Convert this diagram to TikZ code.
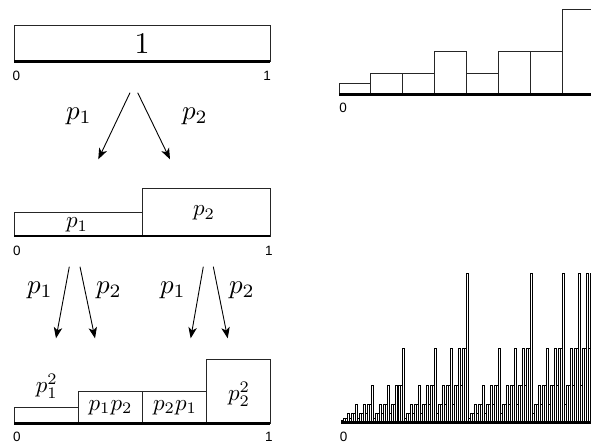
\documentclass[tikz,border=0pt]{standalone}
\usepackage{fontspec}
\newfontfamily\axisfont{Liberation Sans}
\usetikzlibrary{arrows.meta}
\begin{document}
\begin{tikzpicture}[x=1pt,y=-1pt,
  bar/.style={draw=black!85,line width=0.8pt},
  thinbar/.style={draw=black,line width=0.55pt},
  base/.style={line width=2.5pt,black},
  axlab/.style={font=\axisfont\fontsize{13.5}{13.5}\selectfont,inner sep=0pt},
  arr/.style={line width=0.9pt,-{Stealth[length=11pt,width=8.5pt,inset=3pt]}},
  plab/.style={scale=2.7,inner sep=0pt},
  blab/.style={scale=2.3,inner sep=0pt}]
\useasboundingbox (0,0) rectangle (591,445);
\clip (0,0) rectangle (591,445);

% ---------- level 0 ----------
\draw[bar] (14,25.7) rectangle (270,61.7);
\draw[base] (14,61.7) -- (270,61.7);
\node[scale=3,inner sep=0pt] (one) at (142,44) {1};
\node[axlab] (l0a) at (16.5,76) {0};
\node[axlab] (l0b) at (267,76) {1};

\coordinate (a0s) at (130,92.7);  \coordinate (a0e) at (98.3,159.3);
\coordinate (b0s) at (137.7,92.7);\coordinate (b0e) at (170,159.3);
\draw[arr] (a0s) -- (a0e);
\draw[arr] (b0s) -- (b0e);
\node[plab] (q0a) at (79,116.7) {$p_1$};
\node[plab] (q0b) at (195,116.7) {$p_2$};

% ---------- level 1 ----------
\draw[bar] (14,236) rectangle (142,212);
\draw[bar] (142,236) rectangle (270,188);
\draw[base] (14,236) -- (270,236);
\node[blab] (m1a) at (77,225) {$p_1$};
\node[blab] (m1b) at (204,213) {$p_2$};
\node[axlab] (l1a) at (17,250.7) {0};
\node[axlab] (l1b) at (269,250.7) {1};

\coordinate (c1s) at (69.3,266.7);  \coordinate (c1e) at (56,338.3);
\coordinate (d1s) at (80,266.7);    \coordinate (d1e) at (95,338.3);
\coordinate (e1s) at (203.3,266.7); \coordinate (e1e) at (190.7,338.3);
\coordinate (f1s) at (213.3,266.7); \coordinate (f1e) at (227.7,338.3);
\draw[arr] (c1s) -- (c1e);
\draw[arr] (d1s) -- (d1e);
\draw[arr] (e1s) -- (e1e);
\draw[arr] (f1s) -- (f1e);
\node[plab] (q1a) at (40,290) {$p_1$};
\node[plab] (q1b) at (109,290) {$p_2$};
\node[plab] (q1c) at (173,290) {$p_1$};
\node[plab] (q1d) at (242,290) {$p_2$};

% ---------- level 2 ----------
\draw[bar] (14,423.3) rectangle (78,407.3);
\draw[bar] (78,423.3) rectangle (142,391.3);
\draw[bar] (142,423.3) rectangle (206,391.3);
\draw[bar] (206,423.3) rectangle (270,359.3);
\draw[base] (14,423.3) -- (270,423.3);
\node[blab] (m2a) at (46.7,386) {$p_1^2$};
\node[blab] (m2b) at (110.5,407.5) {$p_1p_2$};
\node[blab] (m2c) at (175,407.5) {$p_2p_1$};
\node[blab] (m2d) at (239,394) {$p_2^2$};
\node[axlab] (l2a) at (17,437) {0};
\node[axlab] (l2b) at (269,437) {1};

% ---------- top right: level 3 ----------
\foreach \hk [count=\i from 0] in {0,1,1,2,1,2,2,3}
  \draw[bar] ({339+\i*31.875},94.3) rectangle ++(31.875,{-10.67*pow(2,\hk)});
\draw[base] (339,94.3) -- (595,94.3);
\node[axlab] (r3a) at (343,107.5) {0};
\node[axlab] (r3b) at (594,107.5) {1};

% ---------- bottom right: level 7 ----------
\foreach \ia in {0,1}{
 \foreach \ib in {0,1}{
  \foreach \ic in {0,1}{
   \foreach \id in {0,1}{
    \foreach \ie in {0,1}{
     \foreach \ig in {0,1}{
      \foreach \ih in {0,1}{
       \pgfmathsetmacro\idx{64*\ia+32*\ib+16*\ic+8*\id+4*\ie+2*\ig+\ih}
       \pgfmathsetmacro\hh{2.33*pow(2,\ia+\ib+\ic+\id+\ie+\ig+\ih)}
       \draw[thinbar] ({341+\idx*1.992},422.7) rectangle ++(1.992,-\hh);
      }}}}}}}
\draw[base] (341,422.7) -- (595,422.7);
\node[axlab] (r7a) at (343.5,437) {0};
\end{tikzpicture}
\end{document}
